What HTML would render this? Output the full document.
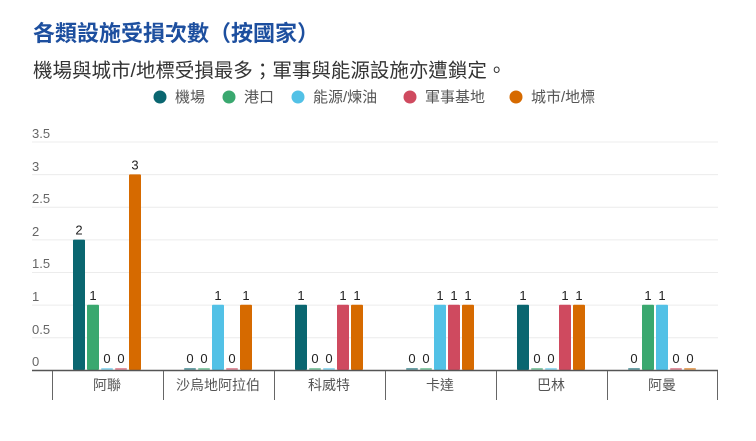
<!DOCTYPE html>
<html><head><meta charset="utf-8"><style>
body{margin:0;background:#fff;width:756px;height:436px;overflow:hidden;font-family:"Liberation Sans","Noto Sans CJK TC",sans-serif}
</style></head><body>
<svg width="756" height="436" xmlns="http://www.w3.org/2000/svg" font-family="Liberation Sans, Noto Sans CJK TC, sans-serif">
<text x="33" y="41" font-size="22" font-weight="bold" fill="#1d4f9f">各類設施受損次數（按國家）</text>
<text x="33" y="77" font-size="19.5" fill="#333">機場與城市/地標受損最多；軍事與能源設施亦遭鎖定。</text>
<g font-size="15" fill="#555">
<circle cx="160" cy="97" r="6.5" fill="#0a6670"/><text x="175" y="102">機場</text>
<circle cx="229" cy="97" r="6.5" fill="#3aa86f"/><text x="244" y="102">港口</text>
<circle cx="298" cy="97" r="6.5" fill="#52c1e6"/><text x="313" y="102">能源/煉油</text>
<circle cx="410" cy="97" r="6.5" fill="#cf4a5f"/><text x="425" y="102">軍事基地</text>
<circle cx="516" cy="97" r="6.5" fill="#d66a00"/><text x="531" y="102">城市/地標</text>
</g>
<g stroke="#ececec" stroke-width="1">
<line x1="32" x2="718" y1="142" y2="142"/><line x1="32" x2="718" y1="174.6" y2="174.6"/>
<line x1="32" x2="718" y1="207.3" y2="207.3"/><line x1="32" x2="718" y1="239.9" y2="239.9"/>
<line x1="32" x2="718" y1="272.5" y2="272.5"/><line x1="32" x2="718" y1="305.1" y2="305.1"/>
<line x1="32" x2="718" y1="337.7" y2="337.7"/>
</g>
<g font-size="13" fill="#666">
<text x="32" y="138">3.5</text><text x="32" y="171">3</text><text x="32" y="203">2.5</text>
<text x="32" y="236">2</text><text x="32" y="268">1.5</text><text x="32" y="301">1</text>
<text x="32" y="334">0.5</text><text x="32" y="366">0</text>
</g>
<g id="bars"></g>
<line x1="32" x2="718" y1="370.5" y2="370.5" stroke="#555" stroke-width="1.5"/>
<g stroke="#666" stroke-width="1">
<line x1="52.5" x2="52.5" y1="371" y2="400"/><line x1="163.5" x2="163.5" y1="371" y2="400"/>
<line x1="274.5" x2="274.5" y1="371" y2="400"/><line x1="385.5" x2="385.5" y1="371" y2="400"/>
<line x1="496.5" x2="496.5" y1="371" y2="400"/><line x1="607.5" x2="607.5" y1="371" y2="400"/>
<line x1="717.5" x2="717.5" y1="371" y2="400"/>
</g>
<g font-size="14" fill="#555" text-anchor="middle">
<text x="107" y="390">阿聯</text><text x="218" y="390">沙烏地阿拉伯</text><text x="329" y="390">科威特</text>
<text x="440" y="390">卡達</text><text x="551" y="390">巴林</text><text x="662" y="390">阿曼</text>
</g>
</svg>
<script>
var d=[[2,1,0,0,3],[0,0,1,0,1],[1,0,0,1,1],[0,0,1,1,1],[1,0,0,1,1],[0,1,1,0,0]];
var c=["#0a6670","#3aa86f","#52c1e6","#cf4a5f","#d66a00"];
var g=document.getElementById("bars"),s="";
for(var i=0;i<6;i++)for(var j=0;j<5;j++){var v=d[i][j],x=73+i*111+j*14,h=v?v*65.2:2,y=370-h;
s+='<rect x="'+x+'" y="'+y+'" width="12" height="'+h+'" rx="1" fill="'+c[j]+'" '+(v?'':'opacity="0.6"')+'/>';
s+='<text x="'+(x+6)+'" y="'+(y-5)+'" font-size="13" fill="#222" text-anchor="middle">'+v+'</text>';}
g.innerHTML=s;
</script>
</body></html>
